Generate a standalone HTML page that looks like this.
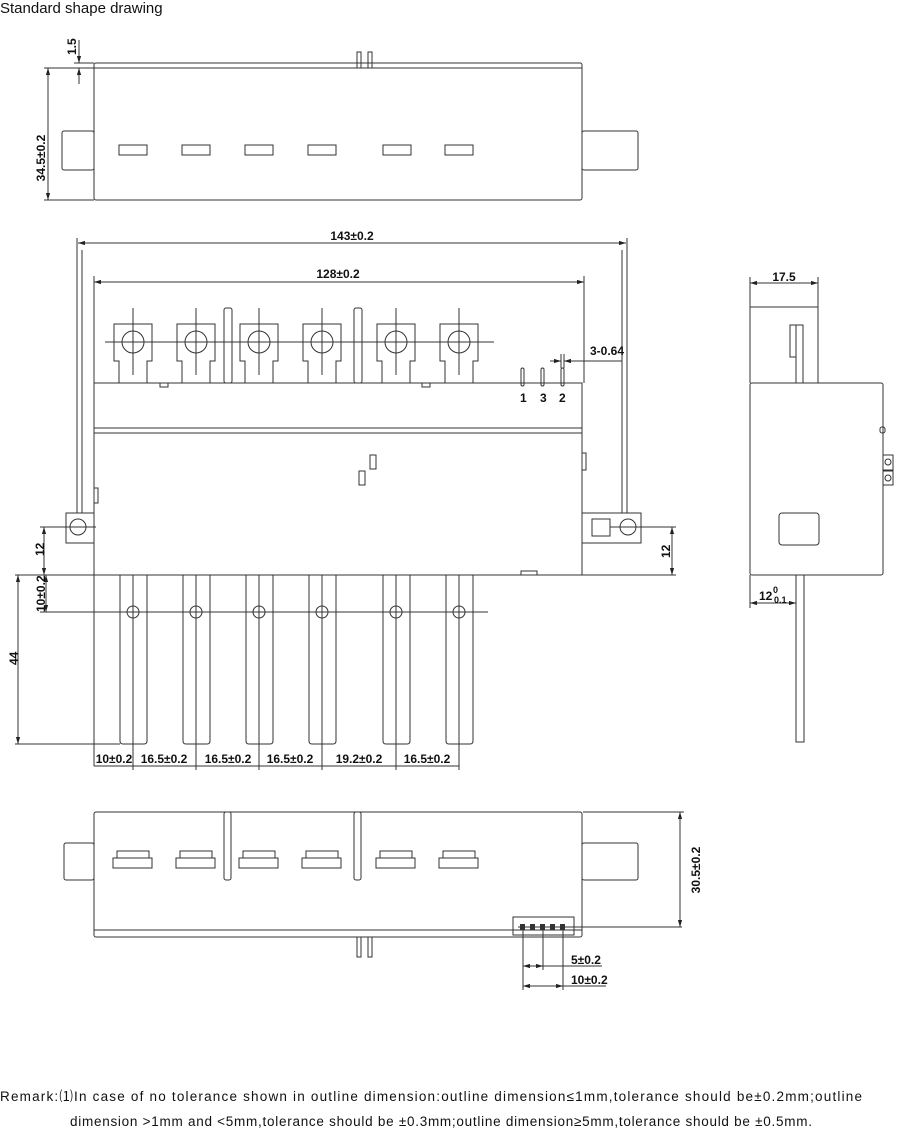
<!DOCTYPE html>
<html><head><meta charset="utf-8"><style>
body{margin:0;background:#fff;width:900px;height:1131px;overflow:hidden;font-family:"Liberation Sans",sans-serif}
svg{position:absolute;left:0;top:0}
.t{font-family:"Liberation Sans",sans-serif;font-size:12px;font-weight:bold;fill:#111}
.r{font-family:"Liberation Sans",sans-serif;font-size:13.5px;fill:#111}
</style></head><body>
<svg width="900" height="1131" viewBox="0 0 900 1131">
<defs>
<marker id="a" viewBox="0 0 10 10" refX="10" refY="5" markerWidth="7" markerHeight="7" orient="auto-start-reverse" markerUnits="userSpaceOnUse"><path d="M0,2L10,5L0,8z" fill="#222"/></marker>
</defs>
<text x="0" y="13" class="r" style="font-size:15px">Standard shape drawing</text>
<g fill="none" stroke="#333" stroke-width="1">
<!-- TOP VIEW -->
<rect x="94" y="63" width="488" height="137" rx="2"/>
<line x1="94" y1="68" x2="582" y2="68"/>
<rect x="62" y="131" width="32" height="39" rx="2"/>
<rect x="582" y="131" width="56" height="39" rx="2"/>
<rect x="119" y="145" width="28" height="10"/><rect x="182" y="145" width="28" height="10"/>
<rect x="245" y="145" width="28" height="10"/><rect x="308" y="145" width="28" height="10"/>
<rect x="383" y="145" width="28" height="10"/><rect x="445" y="145" width="28" height="10"/>
<rect x="357" y="52" width="4" height="16"/><rect x="368" y="52" width="4" height="16"/>
<line x1="44" y1="68" x2="94" y2="68"/><line x1="44" y1="200" x2="94" y2="200"/>
<line x1="74" y1="63" x2="94" y2="63"/>
<line x1="48" y1="68" x2="48" y2="200" marker-start="url(#a)" marker-end="url(#a)"/>
<line x1="79" y1="40" x2="79" y2="63" marker-end="url(#a)"/>
<line x1="79" y1="84" x2="79" y2="68" marker-end="url(#a)"/>

<!-- FRONT VIEW -->
<line x1="78" y1="243" x2="626" y2="243" marker-start="url(#a)" marker-end="url(#a)"/>
<line x1="94" y1="282" x2="584" y2="282" marker-start="url(#a)" marker-end="url(#a)"/>
<line x1="94" y1="276" x2="94" y2="383"/><line x1="584" y1="276" x2="584" y2="383"/>
<line x1="77" y1="238" x2="77" y2="513"/><line x1="82" y1="250" x2="82" y2="513"/>
<line x1="627" y1="238" x2="627" y2="513"/><line x1="622" y1="250" x2="622" y2="513"/>
<rect x="94" y="383" width="488" height="192"/>
<line x1="94" y1="428" x2="582" y2="428"/><line x1="94" y1="433" x2="582" y2="433"/>
<path d="M94,513H66V543H94"/><circle cx="78" cy="527" r="8"/>
<path d="M582,513H641V543H582"/><rect x="592" y="519" width="18" height="17"/><circle cx="628" cy="527" r="8"/>
<line x1="40" y1="527" x2="96" y2="527"/><line x1="610" y1="527" x2="676" y2="527"/>
<line x1="15" y1="575" x2="94" y2="575"/><line x1="582" y1="575" x2="676" y2="575"/>
<line x1="44" y1="527" x2="44" y2="575" marker-start="url(#a)" marker-end="url(#a)"/>
<line x1="672" y1="527" x2="672" y2="575" marker-start="url(#a)" marker-end="url(#a)"/>
<rect x="160" y="383" width="8" height="4"/><rect x="422" y="383" width="8" height="4"/>
<rect x="94" y="488" width="4" height="15"/><rect x="582" y="453" width="4" height="17"/>
<rect x="521" y="571" width="16" height="4"/>
<rect x="370" y="455" width="6" height="14"/><rect x="359" y="471" width="6" height="14"/>
<rect x="224" y="308" width="8" height="75" rx="2"/><rect x="354" y="308" width="8" height="75" rx="2"/>
<line x1="105" y1="342" x2="494" y2="342"/>
<rect x="521" y="368" width="3" height="18" rx="1.5"/><rect x="541" y="368" width="3" height="18" rx="1.5"/><rect x="561" y="368" width="3" height="18" rx="1.5"/>
<line x1="550" y1="361" x2="561" y2="361" marker-end="url(#a)"/>
<line x1="622" y1="361" x2="564" y2="361" marker-end="url(#a)"/>
<line x1="561" y1="354" x2="561" y2="368"/><line x1="564" y1="354" x2="564" y2="368"/>
<g id="tm"><path d="M119,383V361H114V324H152V361H147V383"/><circle cx="133" cy="342" r="11"/><line x1="133" y1="308" x2="133" y2="375"/></g>
<use href="#tm" x="63"/><use href="#tm" x="126"/><use href="#tm" x="189"/><use href="#tm" x="263"/><use href="#tm" x="326"/>
<line x1="94" y1="575" x2="94" y2="766"/>
<g id="bb"><path d="M120,575V741Q120,744 123,744H144Q147,744 147,741V575"/><circle cx="133" cy="612" r="6"/><line x1="133" y1="575" x2="133" y2="770"/></g>
<use href="#bb" x="63"/><use href="#bb" x="126"/><use href="#bb" x="189"/><use href="#bb" x="263"/><use href="#bb" x="326"/>
<line x1="40" y1="612" x2="488" y2="612"/>
<line x1="15" y1="744" x2="120" y2="744"/>
<line x1="18" y1="575" x2="18" y2="744" marker-start="url(#a)" marker-end="url(#a)"/>
<line x1="46" y1="575" x2="46" y2="612" marker-start="url(#a)" marker-end="url(#a)"/>
<line x1="94" y1="766" x2="459" y2="766"/>
<!-- SIDE VIEW -->
<line x1="750" y1="283" x2="818" y2="283" marker-start="url(#a)" marker-end="url(#a)"/>
<line x1="750" y1="277" x2="750" y2="383"/><line x1="818" y1="277" x2="818" y2="383"/>
<line x1="750" y1="307" x2="818" y2="307"/>
<path d="M796,383V325H803V383"/><rect x="790" y="325" width="6" height="32"/>
<rect x="750" y="383" width="133" height="192" rx="2"/>
<rect x="880" y="427" width="5" height="6" rx="2"/>
<rect x="883" y="455" width="10" height="15"/><circle cx="888" cy="462" r="3"/>
<rect x="883" y="471" width="10" height="14"/><circle cx="888" cy="478" r="3"/>
<rect x="779" y="513" width="40" height="32" rx="3"/>
<path d="M796,575V742H804V575"/>
<line x1="750" y1="575" x2="750" y2="608"/>
<line x1="750" y1="603" x2="796" y2="603" marker-start="url(#a)" marker-end="url(#a)"/>
<!-- BOTTOM VIEW -->
<rect x="94" y="812" width="488" height="125" rx="2"/>
<line x1="94" y1="930" x2="582" y2="930"/>
<rect x="64" y="843" width="30" height="37" rx="2"/><rect x="582" y="843" width="56" height="37" rx="2"/>
<g id="sl"><rect x="117" y="851" width="32" height="7"/><rect x="113" y="858" width="39" height="10"/></g>
<use href="#sl" x="63"/><use href="#sl" x="126"/><use href="#sl" x="189"/><use href="#sl" x="263"/><use href="#sl" x="326"/>
<rect x="224" y="812" width="7" height="68" rx="2"/><rect x="354" y="812" width="7" height="68" rx="2"/>
<rect x="357" y="937" width="4" height="20"/><rect x="368" y="937" width="4" height="20"/>
<rect x="513" y="917" width="61" height="18"/>
<line x1="518" y1="927" x2="682" y2="927"/>
<line x1="583" y1="812" x2="684" y2="812"/>
<line x1="680" y1="812" x2="680" y2="927" marker-start="url(#a)" marker-end="url(#a)"/>
<line x1="523" y1="927" x2="523" y2="990"/><line x1="543" y1="927" x2="543" y2="970"/><line x1="563" y1="927" x2="563" y2="990"/>
<line x1="523" y1="966" x2="543" y2="966" marker-start="url(#a)" marker-end="url(#a)"/>
<line x1="543" y1="966" x2="602" y2="966"/>
<line x1="523" y1="986" x2="563" y2="986" marker-start="url(#a)" marker-end="url(#a)"/>
<line x1="563" y1="986" x2="606" y2="986"/>
</g>
<g fill="#333"><rect x="520" y="924" width="5" height="6"/><rect x="530" y="924" width="5" height="6"/><rect x="540" y="924" width="5" height="6"/><rect x="550" y="924" width="5" height="6"/><rect x="560" y="924" width="5" height="6"/></g>
<text class="t" transform="translate(76,55) rotate(-90)">1.5</text>
<text class="t" transform="translate(45,158) rotate(-90)" text-anchor="middle">34.5±0.2</text>
<text class="t" x="352" y="240" text-anchor="middle">143±0.2</text>
<text class="t" x="338" y="278" text-anchor="middle">128±0.2</text>
<text class="t" x="590" y="355">3-0.64</text>
<text class="t" x="520" y="402">1</text><text class="t" x="540" y="402">3</text><text class="t" x="559" y="402">2</text>
<text class="t" transform="translate(44,556) rotate(-90)">12</text>
<text class="t" transform="translate(670,558) rotate(-90)">12</text>
<text class="t" transform="translate(45,612) rotate(-90)">10±0.2</text>
<text class="t" transform="translate(18,665) rotate(-90)">44</text>
<text class="t" x="114" y="763" text-anchor="middle">10±0.2</text>
<text class="t" x="164" y="763" text-anchor="middle">16.5±0.2</text>
<text class="t" x="228" y="763" text-anchor="middle">16.5±0.2</text>
<text class="t" x="290" y="763" text-anchor="middle">16.5±0.2</text>
<text class="t" x="359" y="763" text-anchor="middle">19.2±0.2</text>
<text class="t" x="427" y="763" text-anchor="middle">16.5±0.2</text>
<text class="t" x="784" y="281" text-anchor="middle">17.5</text>
<text class="t" x="759" y="600">12</text>
<text class="t" x="773" y="593" style="font-size:9px">0</text>
<text class="t" x="774" y="603" style="font-size:9px">0.1</text>
<text class="t" transform="translate(700,870) rotate(-90)" text-anchor="middle">30.5±0.2</text>
<text class="t" x="571" y="964">5±0.2</text>
<text class="t" x="571" y="984">10±0.2</text>
<text class="r" x="0" y="1101" textLength="862" lengthAdjust="spacing">Remark:⑴In case of no tolerance shown in outline dimension:outline dimension≤1mm,tolerance should be±0.2mm;outline</text>
<text class="r" x="70" y="1126" textLength="742" lengthAdjust="spacing">dimension &gt;1mm and &lt;5mm,tolerance should be ±0.3mm;outline dimension≥5mm,tolerance should be ±0.5mm.</text>
</svg>
</body></html>
